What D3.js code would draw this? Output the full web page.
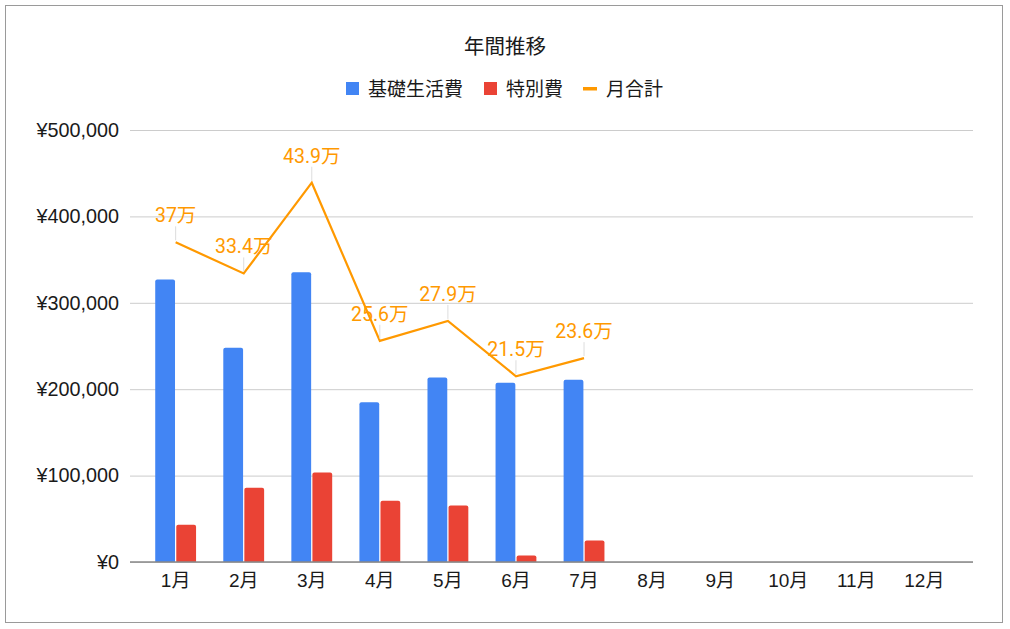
<!DOCTYPE html>
<html>
<head>
<meta charset="utf-8">
<script src="https://cdn.jsdelivr.net/npm/d3@7"></script>
<style>
  body { margin: 0; background: #fff; }
  svg { display: block; }
  .sans { font-family: "Liberation Sans", Arial, "Noto Sans CJK JP", sans-serif; }
</style>
</head>
<body>
<svg width="1010" height="629"></svg>
<script>
const months = ["1月","2月","3月","4月","5月","6月","7月","8月","9月","10月","11月","12月"];
const basic = [327000, 248000, 335500, 185000, 213500, 207500, 211000, null, null, null, null, null];
const special = [43000, 86000, 103500, 71000, 65500, 7500, 25000, null, null, null, null, null];
const totals = [370000, 334000, 439000, 256000, 279000, 215000, 236000, null, null, null, null, null];
const yTicks = [0, 100000, 200000, 300000, 400000, 500000];
const seriesNames = ["基礎生活費", "特別費", "月合計"];
const colors = ["#4285f4", "#ea4335", "#ff9900"];

const svg = d3.select("svg");

// frame
svg.append("rect")
    .attr("x", 5.5).attr("y", 5.5)
    .attr("width", 997).attr("height", 617)
    .attr("fill", "#fff")
    .attr("stroke", "#9a9a9a")
    .attr("stroke-width", 1);

const x = d3.scaleBand()
    .domain(months)
    .range([128, 972])
    .padding(0.4);

const xs = d3.scaleBand()
    .domain([0, 1])
    .range([0, x.bandwidth()])
    .paddingInner(0.06);

const y = d3.scaleLinear()
    .domain([0, 500000])
    .range([562, 130]);

// grid + y labels
const yAxis = svg.append("g")
    .attr("class", "sans")
    .attr("transform", "translate(130,0)")
    .call(d3.axisLeft(y)
        .tickValues(yTicks)
        .tickSize(-843)
        .tickPadding(11)
        .tickFormat(d => "¥" + d3.format(",")(d)));
yAxis.select(".domain").remove();
yAxis.selectAll(".tick line").attr("stroke", "#cccccc");
yAxis.selectAll(".tick text")
    .attr("font-size", 19.8)
    .attr("fill", "#1a1a1a");

// bars with slightly rounded tops
function barPath(x0, w, yTop, yBase, r) {
    r = Math.min(r, yBase - yTop);
    return `M${x0},${yBase}V${yTop + r}Q${x0},${yTop} ${x0 + r},${yTop}` +
           `H${x0 + w - r}Q${x0 + w},${yTop} ${x0 + w},${yTop + r}V${yBase}Z`;
}

[basic, special].forEach((vals, si) => {
    svg.append("g")
        .selectAll("path")
        .data(months.map((m, i) => ({ m, v: vals[i] })).filter(d => d.v != null))
        .enter()
        .append("path")
        .attr("d", d => barPath(x(d.m) + xs(si), xs.bandwidth(), y(d.v), y(0), 2))
        .attr("fill", colors[si]);
});

// baseline
svg.append("line")
    .attr("x1", 130).attr("x2", 973)
    .attr("y1", y(0)).attr("y2", y(0))
    .attr("stroke", "#888")
    .attr("stroke-width", 1.5);

// x labels
const xAxis = svg.append("g")
    .attr("class", "sans")
    .attr("transform", `translate(0,${y(0)})`)
    .call(d3.axisBottom(x).tickSize(0).tickPadding(12));
xAxis.select(".domain").remove();
xAxis.selectAll(".tick text")
    .attr("font-size", 19)
    .attr("fill", "#1a1a1a");

// total line
const linePts = months.map((m, i) => ({ m, v: totals[i] })).filter(d => d.v != null);
const cx = d => x(d.m) + x.bandwidth() / 2;

svg.append("path")
    .datum(linePts)
    .attr("d", d3.line().x(cx).y(d => y(d.v)))
    .attr("fill", "none")
    .attr("stroke", colors[2])
    .attr("stroke-width", 2.2);

// leader ticks + labels
svg.append("g")
    .selectAll("line")
    .data(linePts)
    .enter()
    .append("line")
    .attr("x1", cx).attr("x2", cx)
    .attr("y1", d => y(d.v) - 2)
    .attr("y2", d => y(d.v) - 16)
    .attr("stroke", "#dddddd")
    .attr("stroke-width", 1);

const fmtMan = v => {
    const s = (v / 10000).toFixed(1);
    return (s.endsWith(".0") ? s.slice(0, -2) : s) + "万";
};

svg.append("g")
    .selectAll("text")
    .data(linePts)
    .enter()
    .append("text")
    .attr("x", cx)
    .attr("y", d => y(d.v) - 20)
    .attr("text-anchor", "middle")
    .attr("font-family", "Roboto, 'Noto Sans CJK JP', sans-serif")
    .attr("font-size", 19.5)
    .attr("fill", colors[2])
    .text(d => fmtMan(d.v));

// title
svg.append("text")
    .attr("x", 505).attr("y", 54)
    .attr("text-anchor", "middle")
    .attr("font-family", "'Noto Sans CJK JP', sans-serif")
    .attr("font-size", 20.5)
    .attr("fill", "#1a1a1a")
    .text("年間推移");

// legend
const legend = svg.append("g").attr("font-family", "'Noto Sans CJK JP', sans-serif");
const legendX = [346, 484, 583];
seriesNames.forEach((name, i) => {
    const g = legend.append("g").attr("transform", `translate(${legendX[i]},0)`);
    if (i < 2) {
        g.append("rect")
            .attr("x", 0).attr("y", 82)
            .attr("width", 13).attr("height", 13)
            .attr("fill", colors[i]);
    } else {
        g.append("rect")
            .attr("x", 0).attr("y", 87)
            .attr("width", 14).attr("height", 3.5)
            .attr("fill", colors[i]);
    }
    g.append("text")
        .attr("x", i < 2 ? 22 : 23)
        .attr("y", 96)
        .attr("font-size", 19)
        .attr("fill", "#1a1a1a")
        .text(name);
});
</script>
</body>
</html>
